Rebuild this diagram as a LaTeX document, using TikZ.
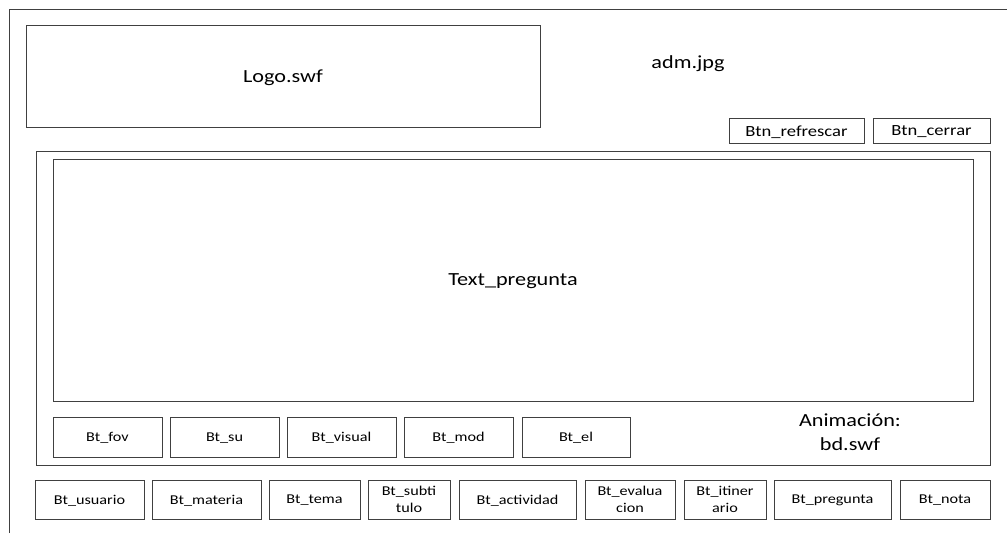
\documentclass[tikz,border=0pt]{standalone}
\usepackage{fontspec}
\setmainfont[FakeStretch=1.2]{Carlito}
\usepackage{xcolor}
\usepackage{tikz}
\definecolor{frameline}{HTML}{404040}

\begin{document}
\begin{tikzpicture}[x=1pt, y=-1pt,
    box/.style={draw=frameline, line width=0.9pt, inner sep=0pt, align=center, text depth=0pt},
    bigtxt/.style={font=\fontsize{18.5}{24}\selectfont},
    btntxt/.style={font=\fontsize{15.5}{18}\selectfont},
    bttxt/.style={font=\fontsize{13.5}{17.5}\selectfont}]
          \useasboundingbox (0,0) rectangle (1007,533);
          \draw[frameline, line width=1pt] (9,533) -- (9,9) -- (1007,9);

          \node[box, bigtxt, minimum width=514, minimum height=102] (logo) at (283,76) {Logo.swf};
          \node[bigtxt] (adm) at (688,64) {adm.jpg};
          \node[box, btntxt, minimum width=135, minimum height=25] (refrescar) at (796.5,131) {Btn\_refrescar};
          \node[box, btntxt, minimum width=117, minimum height=25] (cerrar) at (931.5,131) {Btn\_cerrar};

          \node[box, minimum width=954, minimum height=314] (panel) at (513,308) {};
          \node[box, bigtxt, minimum width=920, minimum height=242] (pregunta) at (513,280) {Text\_pregunta};

          \node[box, bttxt, minimum width=109, minimum height=40] (fov) at (107.5,437) {Bt\_fov};
          \node[box, bttxt, minimum width=109, minimum height=40] (su) at (224.5,437) {Bt\_su};
          \node[box, bttxt, minimum width=109, minimum height=40] (visual) at (341.5,437) {Bt\_visual};
          \node[box, bttxt, minimum width=109, minimum height=40] (mod) at (458.5,437) {Bt\_mod};
          \node[box, bttxt, minimum width=108, minimum height=40] (el) at (576,437) {Bt\_el};
          \node[bigtxt, align=center] (anim) at (850,432) {Animación:\\bd.swf};

          \node[box, bttxt, minimum width=109, minimum height=39] (usuario) at (89.5,499.5) {Bt\_usuario};
          \node[box, bttxt, minimum width=109, minimum height=39] (materia) at (206.5,499.5) {Bt\_materia};
          \node[box, bttxt, minimum width=91, minimum height=39] (tema) at (314.5,499.5) {Bt\_tema};
          \node[box, bttxt, minimum width=82, minimum height=39] (subtitulo) at (409,499.5) {Bt\_subti\\tulo};
          \node[box, bttxt, minimum width=117, minimum height=39] (actividad) at (517.5,499.5) {Bt\_actividad};
          \node[box, bttxt, minimum width=90, minimum height=39] (evaluacion) at (630,499.5) {Bt\_evalua\\cion};
          \node[box, bttxt, minimum width=82, minimum height=39] (itinerario) at (725,499.5) {Bt\_itiner\\ario};
          \node[box, bttxt, minimum width=117, minimum height=39] (btpregunta) at (832.5,499.5) {Bt\_pregunta};
          \node[box, bttxt, minimum width=90, minimum height=39] (nota) at (945,499.5) {Bt\_nota};
        \end{tikzpicture}
\end{document}
